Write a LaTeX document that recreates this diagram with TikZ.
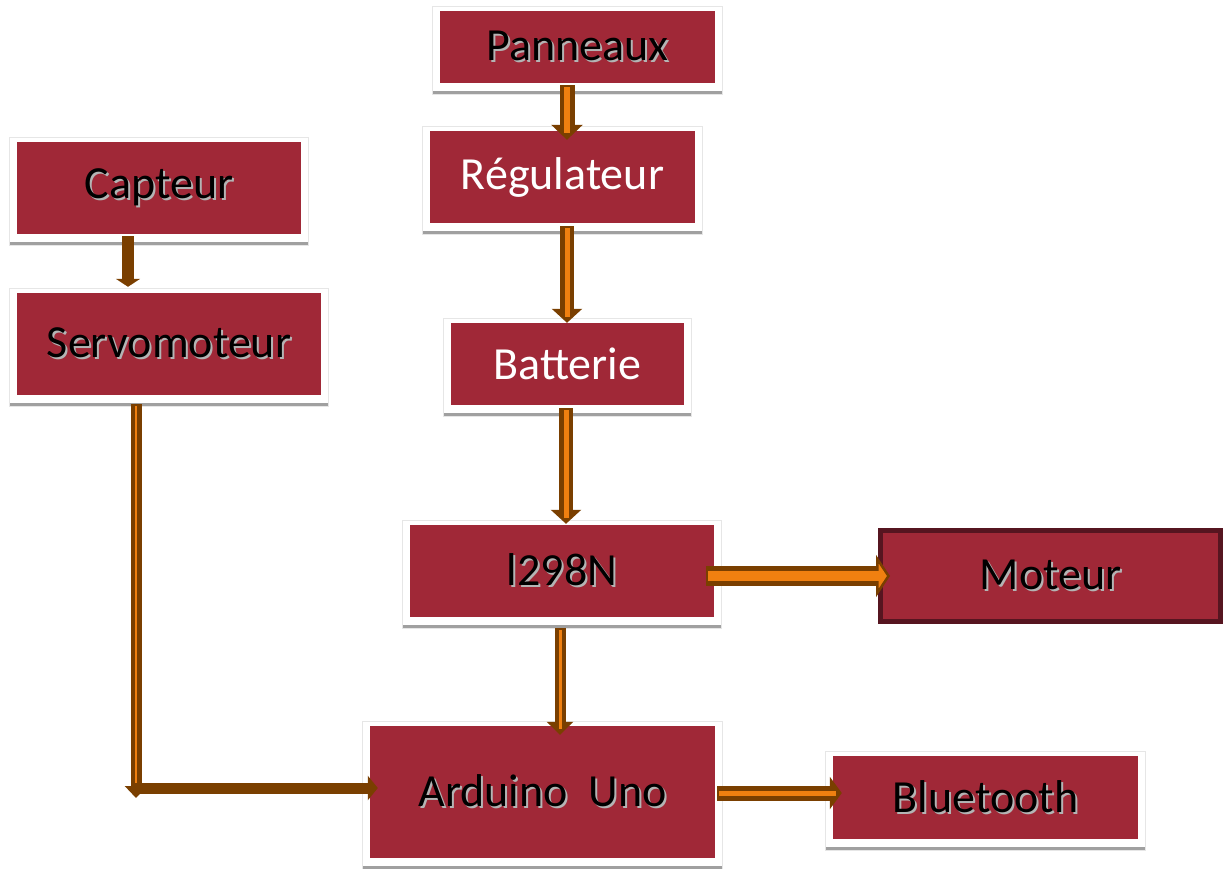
\documentclass[tikz,border=0pt]{standalone}
\usepackage{fontspec}
\setmainfont{Carlito}
\usetikzlibrary{arrows.meta,backgrounds,calc}

\definecolor{boxred}{HTML}{A02837}
\definecolor{boxdark}{HTML}{561520}
\definecolor{pipebrown}{HTML}{7A3F00}
\definecolor{pipeorange}{HTML}{F08010}
\definecolor{textshade}{HTML}{B4B4B4}
\definecolor{frameedge}{HTML}{E6E6E6}
\definecolor{frameshade}{HTML}{A0A0A0}

% black label with a light drop shadow
\newcommand\shadowed[1]{\leavevmode\rlap{\kern2pt\raisebox{-2pt}{\textcolor{textshade}{#1}}}#1}

% white card with a grey lower edge behind a block
\newcommand\cardbehind[1]{%
  \fill[white] ($(#1.north west)+(-7,-4)$) rectangle ($(#1.south east)+(7,11)$);
  \draw[frameedge, line width=0.8] ($(#1.north west)+(-7,-4)$) rectangle ($(#1.south east)+(7,11)$);
  \fill[frameshade] ($(#1.south west)+(-7,8)$) rectangle ($(#1.south east)+(7,11)$);}

\tikzset{
  blk/.style={fill=boxred, draw=none, inner sep=0pt, text=black,
    font=\fontsize{46}{52}\selectfont},
  lighttext/.style={text=white},
  headfill/.store in=\pipeheadfill, headfill=pipebrown,
  % hollow double pipe: outer width, inner width, tip length, tip width
  pipe/.style n args={4}{draw=pipebrown, line width=#1,
    -{Triangle[length=#3, width=#4, line width=2.5pt, fill=\pipeheadfill]},
    postaction={draw=pipeorange, line width=#2, -, shorten >=0.45*#3, shorten <=2pt}},
  % solid brown pipe: width, tip length, tip width
  solidpipe/.style n args={3}{draw=pipebrown, line width=#1,
    -{Triangle[length=#2, width=#3, fill=pipebrown]}},
}

\begin{document}
\begin{tikzpicture}[x=1pt, y=-1pt]
\useasboundingbox (0,0) rectangle (1223,868);

% blocks
\node[blk, minimum width=275, minimum height=72] (pan) at (577.5,47) {\shadowed{Panneaux}};
\node[blk, lighttext, minimum width=265, minimum height=92] (reg) at (562.5,177) {Régulateur};
\node[blk, minimum width=284, minimum height=92] (cap) at (159,188) {\shadowed{Capteur}};
\node[blk, minimum width=304, minimum height=102] (servo) at (169,344) {\shadowed{Servomoteur}};
\node[blk, lighttext, minimum width=233, minimum height=82] (bat) at (567.5,364) {Batterie};
\node[blk, minimum width=304, minimum height=92] (drv) at (562,571) {\shadowed{l298N}};
\node[blk, draw=boxdark, line width=5, minimum width=340, minimum height=91] (mot) at (1050.5,576) {\shadowed{Moteur}};
\node[blk, minimum width=345, minimum height=132] (ard) at (542.5,792) {\shadowed{Arduino\ \ Uno}};
\node[blk, minimum width=305, minimum height=83] (bt) at (985.5,797.5) {\shadowed{Bluetooth}};

\coordinate (elbow) at (136,798);

\begin{pgfonlayer}{background}
  \cardbehind{pan}
  \cardbehind{reg}
  \cardbehind{cap}
  \cardbehind{servo}
  \cardbehind{bat}
  \cardbehind{drv}
  \cardbehind{ard}
  \cardbehind{bt}
\end{pgfonlayer}

% power chain
\draw[pipe={15}{6}{15}{31}] ($(pan.south)+(-10.5,2)$) -- ($(reg.north)+(4.5,9)$);
\draw[pipe={14}{5}{14}{30}] ($(reg.south)+(4.5,3)$) -- ($(bat.north)+(-0.5,0)$);
\draw[pipe={14}{5}{14}{30}] ($(bat.south)+(-1.5,3)$) -- ($(drv.north)+(4,-1)$);
\draw[pipe={11}{3}{13}{26}] ($(drv.south)+(-2,11)$) -- ($(ard.north)+(17.5,9)$);
\draw[headfill=pipeorange, pipe={20}{10}{14}{42}] ($(drv.east)+(-8,5)$) -- ($(mot.west)+(12,0)$);
\draw[pipe={15}{5}{12}{32}] ($(ard.east)+(2,1)$) -- ($(bt.west)+(9,-4.5)$);

% sensor chain
\draw[solidpipe={12}{8}{24}] ($(cap.south)+(-31,2)$) -- ($(servo.north)+(-41,-6)$);
\draw[pipe={11}{2}{12}{22}] ($(servo.south)+(-33,9)$) -- (elbow);
\draw[solidpipe={11}{10}{24}] ($(elbow)+(-4,-10)$) -- ($(ard.west)+(8,-4)$);

\end{tikzpicture}
\end{document}
